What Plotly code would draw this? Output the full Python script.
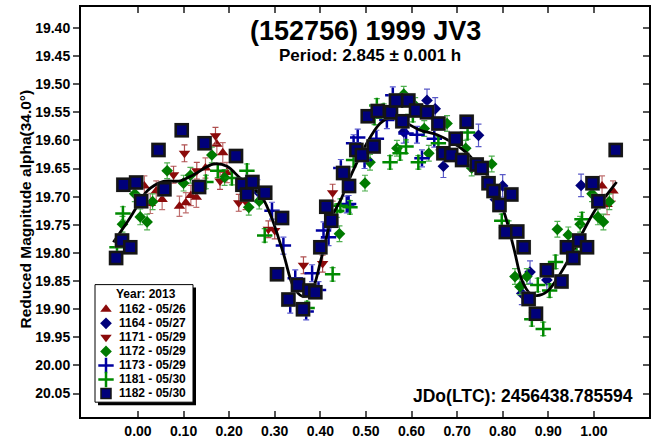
import plotly.graph_objects as go

# ---------------- data (phase, reduced magnitude) ----------------
p1162 = [0.014, 0.027, 0.040, 0.053, 0.091, 0.105, 0.116, 0.128, 0.148, 0.173, 0.186, 0.195, 1.018, 1.029, 1.042]
m1162 = [19.681, 19.712, 19.690, 19.705, 19.717, 19.711, 19.698, 19.701, 19.649, 19.607, 19.622, 19.657, 19.681, 19.714, 19.690]
e1162 = 0.018

p1164 = [0.262, 0.583, 0.634, 0.652, 0.670, 0.747, 0.784, 0.800, 0.842, 0.860, 0.897, 0.972]
m1164 = [19.690, 19.585, 19.529, 19.544, 19.646, 19.591, 19.705, 19.681, 19.872, 19.834, 19.848, 19.680]
e1164 = 0.02

p1171 = [0.078, 0.102, 0.129, 0.170, 0.180, 0.221, 0.236, 0.286, 0.300, 0.363, 0.405, 0.427]
m1171 = [19.661, 19.623, 19.654, 19.592, 19.672, 19.711, 19.708, 19.758, 19.760, 19.822, 19.819, 19.693]
e1171 = 0.015

p1172 = [-0.034, -0.007, 0.005, 0.020, 0.032, 0.064, 0.100, 0.115, 0.162, 0.190, 0.243, 0.266, 0.442,
         0.498, 0.509, 0.568, 0.583, 0.608, 0.628, 0.638, 0.678, 0.719, 0.732, 0.776, 0.827, 0.838,
         0.853, 0.920, 0.944, 0.970, 0.996, 1.009, 1.021, 1.034]
m1172 = [19.749, 19.695, 19.736, 19.745, 19.709, 19.654, 19.676, 19.662, 19.626, 19.666, 19.719, 19.708, 19.766,
         19.676, 19.639, 19.614, 19.518, 19.538, 19.579, 19.623, 19.570, 19.614, 19.649, 19.642, 19.842, 19.860,
         19.842, 19.758, 19.768, 19.749, 19.695, 19.736, 19.745, 19.709]
e1172 = 0.014

p1173 = [0.294, 0.319, 0.334, 0.345, 0.369, 0.382, 0.396, 0.407, 0.418, 0.445, 0.458, 0.462, 0.473,
         0.482, 0.497, 0.523, 0.546, 0.559, 0.588, 0.612, 0.623, 0.650]
m1173 = [19.725, 19.787, 19.892, 19.845, 19.904, 19.836, 19.866, 19.760, 19.772, 19.649, 19.714, 19.713, 19.605,
         19.595, 19.635, 19.597, 19.564, 19.520, 19.588, 19.590, 19.632, 19.597]
e1173 = 0.015

p1181 = [-0.046, -0.033, 0.149, 0.175, 0.206, 0.239, 0.278, 0.371, 0.427, 0.436, 0.444, 0.465, 0.473,
         0.519, 0.524, 0.539, 0.553, 0.575, 0.588, 0.603, 0.615, 0.659, 0.723, 0.798, 0.813, 0.864,
         0.877, 0.889, 0.903, 0.916, 0.962, 0.974]
m1181 = [19.790, 19.730, 19.674, 19.654, 19.667, 19.654, 19.769, 19.898, 19.838, 19.725, 19.716, 19.719, 19.635,
         19.560, 19.538, 19.547, 19.639, 19.623, 19.611, 19.555, 19.639, 19.605, 19.586, 19.743, 19.755, 19.918,
         19.857, 19.935, 19.867, 19.816, 19.784, 19.740]
e1181 = 0.012

p1182 = [-0.048, -0.035, -0.032, -0.017, -0.004, 0.007, 0.045, 0.058, 0.096, 0.134, 0.146, 0.215, 0.229,
         0.239, 0.251, 0.279, 0.305, 0.316, 0.330, 0.351, 0.362, 0.376, 0.389, 0.400, 0.413, 0.424, 0.450,
         0.463, 0.479, 0.491, 0.504, 0.517, 0.526, 0.555, 0.566, 0.580, 0.593, 0.610, 0.634, 0.659, 0.670,
         0.687, 0.697, 0.711, 0.721, 0.743, 0.754, 0.769, 0.780, 0.793, 0.807, 0.819, 0.832, 0.846, 0.857,
         0.873, 0.897, 0.929, 0.941, 0.955, 0.968, 0.985, 0.997, 1.010, 1.048]
m1182 = [19.809, 19.778, 19.679, 19.790, 19.675, 19.708, 19.617, 19.687, 19.582, 19.683, 19.605, 19.628, 19.679,
         19.696, 19.674, 19.693, 19.838, 19.738, 19.883, 19.857, 19.900, 19.867, 19.870, 19.790, 19.718, 19.743, 19.658,
         19.681, 19.617, 19.626, 19.557, 19.611, 19.548, 19.550, 19.529, 19.566, 19.529, 19.547, 19.550, 19.570, 19.623,
         19.626, 19.597, 19.635, 19.567, 19.643, 19.649, 19.676, 19.690, 19.715, 19.763, 19.696, 19.762, 19.790, 19.882,
         19.908, 19.831, 19.851, 19.790, 19.809, 19.778, 19.790, 19.676, 19.708, 19.617]
e1182 = 0.01

fit_phase = [-0.054, -0.017, 0.005, 0.020, 0.056, 0.093, 0.122, 0.166, 0.195, 0.224, 0.268, 0.290, 0.319, 0.341,
             0.360, 0.378, 0.403, 0.425, 0.447, 0.458, 0.502, 0.531, 0.553, 0.583, 0.619, 0.656, 0.692, 0.722,
             0.736, 0.773, 0.802, 0.824, 0.842, 0.860, 0.875, 0.897, 0.927, 0.955, 0.985, 1.007, 1.030, 1.050]
fit_mag = [19.781, 19.737, 19.708, 19.690, 19.673, 19.672, 19.661, 19.642, 19.646, 19.667, 19.696, 19.731, 19.801,
           19.860, 19.877, 19.872, 19.807, 19.737, 19.702, 19.679, 19.605, 19.570, 19.560, 19.567, 19.582, 19.590,
           19.605, 19.623, 19.635, 19.670, 19.725, 19.790, 19.848, 19.872, 19.876, 19.869, 19.836, 19.796, 19.749,
           19.719, 19.695, 19.674]

x_ticks = [0.0, 0.1, 0.2, 0.3, 0.4, 0.5, 0.6, 0.7, 0.8, 0.9, 1.0]
y_ticks = [19.40, 19.45, 19.50, 19.55, 19.60, 19.65, 19.70, 19.75, 19.80, 19.85, 19.90, 19.95, 20.00, 20.05]
legend_labels = ["1162 - 05/26", "1164 - 05/27", "1171 - 05/29", "1172 - 05/29",
                 "1173 - 05/29", "1181 - 05/30", "1182 - 05/30"]

FONT = "Arial, Liberation Sans, sans-serif"
X_RANGE = [-0.125, 1.121]
Y_RANGE = [20.0916, 19.363]

# pixel geometry of plot area
L, R, T, B = 81, 649, 7, 422
W, H = 652, 442

series = [
    (p1162, m1162, e1162, "triangle-up", "#8b0a0a", "#c07070", 10, None),
    (p1164, m1164, e1164, "diamond", "#00007a", "#5a5ac8", 9, None),
    (p1171, m1171, e1171, "triangle-down", "#8b0a0a", "#b05050", 10, None),
    (p1172, m1172, e1172, "diamond", "#007a00", "#50b050", 9, None),
    (p1173, m1173, e1173, "cross-thin", "#0000a0", "#5a5ad0", 11, 2.5),
    (p1181, m1181, e1181, "cross-thin", "#008a00", "#50b050", 11, 2.5),
]

fig = go.Figure()
for px, mg, er, sym, col, ecol, size, lw in series:
    if lw:
        marker = dict(symbol=sym, size=size, color=col, line=dict(color=col, width=lw))
    else:
        marker = dict(symbol=sym, size=size, color=col, line=dict(width=0))
    fig.add_trace(go.Scatter(
        x=px, y=mg, mode="markers", marker=marker, showlegend=False,
        error_y=dict(type="constant", value=er, color=ecol, thickness=1.2, width=3)))

fig.add_trace(go.Scatter(x=fit_phase, y=fit_mag, mode="lines", line=dict(color="black", width=2.8, shape="spline"),
                         showlegend=False, hoverinfo="skip"))

# grey halo behind the 1182 squares
fig.add_trace(go.Scatter(
    x=p1182, y=m1182, mode="markers", showlegend=False, hoverinfo="skip",
    marker=dict(symbol="square", size=15, color="rgba(150,150,150,0.55)", line=dict(width=0))))
fig.add_trace(go.Scatter(
    x=p1182, y=m1182, mode="markers", showlegend=False,
    marker=dict(symbol="square", size=12, color="#00007a", line=dict(color="#151515", width=2.5)),
    error_y=dict(type="constant", value=e1182, color="#6a6ad8", thickness=1.2, width=3)))

# helper axes for mirrored inside ticks
fig.add_trace(go.Scatter(x=[], y=[], xaxis="x2", yaxis="y2", showlegend=False))

# custom legend (pixel-coordinate helper axes)
leg_left, leg_right, leg_top, leg_bot = 95, 193, 288, 407
row0, row_step = 313, 14.2
leg_sym = ["triangle-up", "diamond", "triangle-down", "diamond", "cross-thin", "cross-thin", "square"]
leg_col = ["#8b0a0a", "#00007a", "#8b0a0a", "#007a00", "#0000a0", "#008a00", "#00007a"]
leg_line = [dict(width=0), dict(width=0), dict(width=0), dict(width=0),
            dict(color="#0000a0", width=2.5), dict(color="#008a00", width=2.5), dict(color="#151515", width=1.5)]
leg_size = [10, 9, 10, 9, 11, 11, 10]
for i in range(len(legend_labels)):
    yy = row0 + i * row_step
    fig.add_trace(go.Scatter(x=[106], y=[yy], xaxis="x3", yaxis="y3", mode="markers", showlegend=False,
                             marker=dict(symbol=leg_sym[i], color=leg_col[i], size=leg_size[i], line=leg_line[i]),
                             hoverinfo="skip"))

shapes = [
    dict(type="rect", xref="x3", yref="y3", x0=leg_left + 3, x1=leg_right + 3, y0=leg_top + 3, y1=leg_bot + 3,
         fillcolor="black", line=dict(width=0), layer="below"),
    dict(type="rect", xref="x3", yref="y3", x0=leg_left, x1=leg_right, y0=leg_top, y1=leg_bot,
         fillcolor="white", line=dict(color="black", width=1), layer="below"),
]

annotations = [
    dict(text="<b>(152756) 1999 JV3</b>", x=(365 - L) / (R - L), y=(B - 31) / (B - T), xref="paper", yref="paper",
         showarrow=False, font=dict(size=27, family=FONT, color="black"), xanchor="center", yanchor="middle"),
    dict(text="<b>Period: 2.845 ± 0.001 h</b>", x=(370 - L) / (R - L), y=(B - 56) / (B - T), xref="paper", yref="paper",
         showarrow=False, font=dict(size=17, family=FONT, color="black"), xanchor="center", yanchor="middle"),
    dict(text="<b>JDo(LTC): 2456438.785594</b>", x=(635 - L) / (R - L), y=(B - 401) / (B - T), xref="paper",
         yref="paper", showarrow=False, font=dict(size=17.5, family=FONT, color="black"), xanchor="right",
         yanchor="middle"),
    dict(text="<b>Reduced Magnitude alpha(34.0°)</b>", x=(26 - L) / (R - L), y=(B - 212) / (B - T), xref="paper",
         yref="paper", showarrow=False, textangle=-90, font=dict(size=15.5, family=FONT, color="black"),
         xanchor="center", yanchor="middle"),
    dict(text="<b>Year: 2013</b>", x=146, y=298, xref="x3", yref="y3", showarrow=False,
         font=dict(size=12, family=FONT, color="black"), xanchor="center", yanchor="middle"),
]
for i, lab in enumerate(legend_labels):
    annotations.append(dict(text="<b>" + lab + "</b>", x=117, y=row0 + i * row_step, xref="x3", yref="y3",
                            showarrow=False, font=dict(size=12, family=FONT, color="black"),
                            xanchor="left", yanchor="middle"))

tick_font = dict(size=14, family=FONT, color="black")
fig.update_layout(
    width=W, height=H,
    margin=dict(l=L, r=W - R, t=T, b=H - B),
    paper_bgcolor="white", plot_bgcolor="white",
    font=dict(family=FONT),
    xaxis=dict(range=X_RANGE, tickvals=x_ticks, ticktext=["<b>%.2f</b>" % v for v in x_ticks],
               ticks="inside", ticklen=6, tickwidth=1.5, tickcolor="#555", tickfont=tick_font,
               showgrid=False, zeroline=False, showline=True, linecolor="black", linewidth=2),
    yaxis=dict(range=Y_RANGE, tickvals=y_ticks, ticktext=["<b>%.2f</b>" % v for v in y_ticks],
               ticks="outside", ticklen=6, tickwidth=1.5, tickcolor="#555", tickfont=tick_font,
               showgrid=False, zeroline=False, showline=True, linecolor="black", linewidth=2),
    xaxis2=dict(range=X_RANGE, overlaying="x", side="top", tickvals=x_ticks, showticklabels=False,
                ticks="inside", ticklen=6, tickwidth=1.5, tickcolor="#555",
                showgrid=False, zeroline=False, showline=True, linecolor="black", linewidth=2),
    yaxis2=dict(range=Y_RANGE, overlaying="y", side="right", tickvals=y_ticks, showticklabels=False,
                ticks="inside", ticklen=6, tickwidth=1.5, tickcolor="#555",
                showgrid=False, zeroline=False, showline=True, linecolor="black", linewidth=2),
    xaxis3=dict(range=[L, R], overlaying="x", visible=False, fixedrange=True),
    yaxis3=dict(range=[B, T], overlaying="y", visible=False, fixedrange=True),
    shapes=shapes,
    annotations=annotations,
    showlegend=False,
)

fig.write_html("out.html")
